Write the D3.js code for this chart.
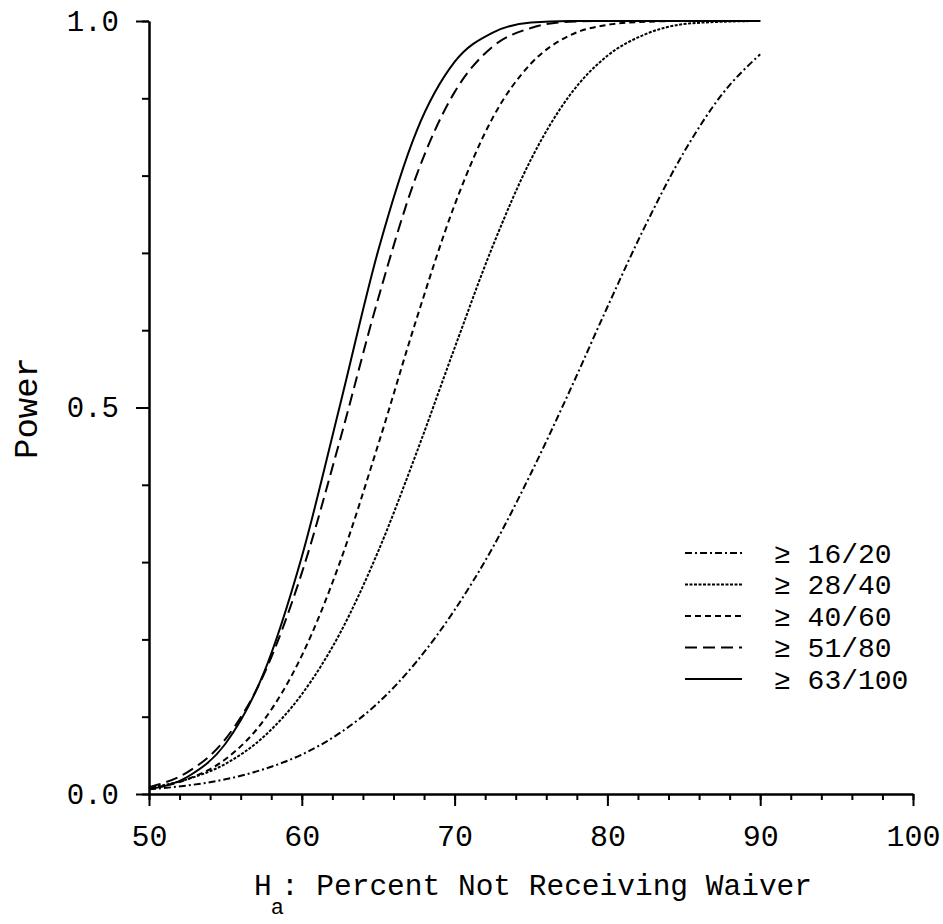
<!DOCTYPE html>
<html lang="en">
<head>
  <meta charset="UTF-8">
  <title>Power curves</title>
  <script src="https://d3js.org/d3.v7.min.js"></script>
  <style>
    body {margin: 0; background: #fff;}
    svg {display: block;}
    text {font-family: "Liberation Mono", "Courier New", monospace; fill: #000;}
    .axis path, .axis line {stroke: #000; stroke-width: 2;}
    .curve {fill: none; stroke: #000; stroke-width: 2;}
  </style>
</head>
<body>
<div id="chart"></div>
<script>
// percent not receiving waiver (x)
const pct = [50, 52.5, 55, 57.5, 60, 62.5, 65, 67.5, 70, 72.5, 75, 77.5, 80, 82.5, 85, 87.5, 90];

// power, one array per decision rule
const pow16of20  = [0.006, 0.011, 0.019, 0.032, 0.051, 0.079, 0.118, 0.171, 0.238, 0.319, 0.415, 0.520, 0.630, 0.736, 0.830, 0.905, 0.957];
const pow28of40  = [0.008, 0.019, 0.039, 0.074, 0.129, 0.208, 0.314, 0.441, 0.577, 0.709, 0.821, 0.903, 0.955, 0.983, 0.996, 0.999, 1.000];
const pow40of60  = [0.007, 0.019, 0.045, 0.095, 0.179, 0.300, 0.452, 0.614, 0.762, 0.875, 0.945, 0.981, 0.995, 0.999, 1.000, 1.000, 1.000];
const pow51of80  = [0.009, 0.028, 0.071, 0.154, 0.286, 0.458, 0.641, 0.800, 0.908, 0.967, 0.991, 0.999, 1.000, 1.000, 1.000, 1.000, 1.000];
const pow63of100 = [0.006, 0.022, 0.065, 0.156, 0.307, 0.503, 0.703, 0.857, 0.947, 0.985, 0.998, 1.000, 1.000, 1.000, 1.000, 1.000, 1.000];

const seriesNames = ["\u2265 16/20", "\u2265 28/40", "\u2265 40/60", "\u2265 51/80", "\u2265 63/100"];
const seriesValues = [pow16of20, pow28of40, pow40of60, pow51of80, pow63of100];

const xTicks = [50, 60, 70, 80, 90, 100];
const yTicks = [0, 0.5, 1];
const yTickLabels = ["0.0", "0.5", "1.0"];

// line styles, same order as the series
const dashes = ["7,3,2,3", "3,1.5", "6,4", "12,6", null];

const width = 943, height = 924;
const svg = d3.select("#chart").append("svg")
  .attr("width", width)
  .attr("height", height);

const x = d3.scaleLinear().domain([50, 100]).range([149, 913]);
const y = d3.scaleLinear().domain([0, 1]).range([794, 21]);

// minor ticks first, majors drawn on top
svg.append("g")
  .attr("class", "axis")
  .attr("transform", `translate(0,${y(0)})`)
  .call(d3.axisBottom(x).tickValues(d3.range(50, 101, 2)).tickSize(6).tickSizeOuter(0).tickFormat(""));
svg.append("g")
  .attr("class", "axis")
  .attr("transform", `translate(0,${y(0)})`)
  .call(d3.axisBottom(x).tickValues(xTicks).tickSize(12).tickSizeOuter(0).tickPadding(19))
  .call(g => g.selectAll("text").attr("font-size", 30));

svg.append("g")
  .attr("class", "axis")
  .attr("transform", `translate(${x(50)},0)`)
  .call(d3.axisLeft(y).tickValues(d3.range(0, 1.01, 0.1)).tickSize(7).tickSizeOuter(0).tickFormat(""));
svg.append("g")
  .attr("class", "axis")
  .attr("transform", `translate(${x(50)},0)`)
  .call(d3.axisLeft(y).tickValues(yTicks).tickSize(13).tickSizeOuter(0).tickPadding(17)
    .tickFormat((d, i) => yTickLabels[i]))
  .call(g => g.selectAll("text").attr("font-size", 29));

svg.selectAll(".axis text").attr("font-family", "'Liberation Mono', monospace");

const line = d3.line()
  .x(d => x(d[0]))
  .y(d => y(d[1]))
  .curve(d3.curveMonotoneX);

seriesValues.forEach((vals, i) => {
  svg.append("path")
    .attr("class", "curve")
    .attr("d", line(pct.map((p, j) => [p, vals[j]])))
    .attr("stroke-dasharray", dashes[i]);
});

// legend
const legend = svg.append("g").attr("transform", "translate(685,553)");
seriesNames.forEach((name, i) => {
  const g = legend.append("g").attr("transform", `translate(0,${i * 31.5})`);
  g.append("line")
    .attr("class", "curve")
    .attr("x1", 0).attr("x2", 57)
    .attr("stroke-dasharray", dashes[i]);
  g.append("text")
    .attr("x", 89)
    .attr("dy", "0.35em")
    .attr("font-size", 28)
    .text(name);
});

// axis titles
svg.append("text")
  .attr("transform", "translate(37,408) rotate(-90)")
  .attr("text-anchor", "middle")
  .attr("font-size", 34)
  .text("Power");

const xt = svg.append("text")
  .attr("x", 533)
  .attr("y", 895)
  .attr("text-anchor", "middle")
  .attr("font-size", 29.5);
xt.append("tspan").text("H");
xt.append("tspan").attr("font-size", 22).attr("dy", 19).attr("dx", -1).text("a");
xt.append("tspan").attr("dy", -19).attr("dx", -3).text(": Percent Not Receiving Waiver");
</script>
</body>
</html>
